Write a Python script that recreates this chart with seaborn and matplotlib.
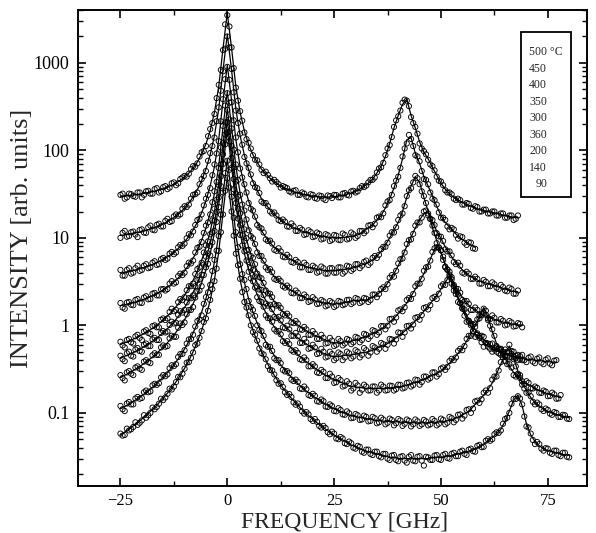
import matplotlib
matplotlib.use("Agg")
import matplotlib.pyplot as plt
import seaborn as sns
from matplotlib.patches import Rectangle
from matplotlib.ticker import FixedLocator, FixedFormatter, LogLocator, NullFormatter

# frequency channels [GHz]: whole numbers, and the channels half way between them
freq = [-25, -24, -23, -22, -21, -20, -19, -18, -17, -16, -15, -14, -13, -12, -11,
        -10, -9, -8, -7, -6, -5, -4, -3, -2, -1, 0, 1, 2, 3, 4, 5, 6, 7, 8, 9, 10,
        11, 12, 13, 14, 15, 16, 17, 18, 19, 20, 21, 22, 23, 24, 25, 26, 27, 28, 29,
        30, 31, 32, 33, 34, 35, 36, 37, 38, 39, 40, 41, 42, 43, 44, 45, 46, 47, 48,
        49, 50, 51, 52, 53, 54, 55, 56, 57, 58, 59, 60, 61, 62, 63, 64, 65, 66, 67,
        68, 69, 70, 71, 72, 73, 74, 75, 76, 77, 78, 79, 80]
freq_mid = [-24.5, -23.5, -22.5, -21.5, -20.5, -19.5, -18.5, -17.5, -16.5, -15.5, -14.5,
            -13.5, -12.5, -11.5, -10.5, -9.5, -8.5, -7.5, -6.5, -5.5, -4.5, -3.5, -2.5,
            -1.5, -0.5, 0.5, 1.5, 2.5, 3.5, 4.5, 5.5, 6.5, 7.5, 8.5, 9.5, 10.5, 11.5, 12.5,
            13.5, 14.5, 15.5, 16.5, 17.5, 18.5, 19.5, 20.5, 21.5, 22.5, 23.5, 24.5, 25.5,
            26.5, 27.5, 28.5, 29.5, 30.5, 31.5, 32.5, 33.5, 34.5, 35.5, 36.5, 37.5, 38.5,
            39.5, 40.5, 41.5, 42.5, 43.5, 44.5, 45.5, 46.5, 47.5, 48.5, 49.5, 50.5, 51.5,
            52.5, 53.5, 54.5, 55.5, 56.5, 57.5, 58.5, 59.5, 60.5, 61.5, 62.5, 63.5, 64.5,
            65.5, 66.5, 67.5, 68.5, 69.5, 70.5, 71.5, 72.5, 73.5, 74.5, 75.5, 76.5, 77.5,
            78.5, 79.5]

legend_labels = ["500 °C", "450", "400", "350", "300", "360", "200", "140", "90"]

# fitted curves (solid lines), on the whole-number channels
fit_500 = [29.8, 30.1, 30.5, 30.9, 31.4, 31.9, 32.6, 33.3, 34.2, 35.2, 36.5, 38.1, 39.9, 42.4, 45.5,
           49.5, 55, 62.6, 73.7, 90.6, 118, 168, 272, 536, 1470, 3726,
           1470, 536, 272, 166, 116, 89, 73, 61, 54, 48, 44, 40.5, 38, 36, 34.5, 33, 32, 31.3, 30.6, 30,
           29.6, 29.4, 29.3, 29.3, 29.5, 30, 30.5, 31.5, 32.5, 34, 36, 39, 42, 47, 55, 66, 85, 120, 180, 250,
           335, 385, 250, 180, 125, 95, 80, 64, 52, 42, 36, 32, 29, 27, 25.5, 24, 23, 22, 21, 20.5,
           20, 19.5, 19, 18.5, 18, 17.5, 17.2, 17]
fit_450 = [10.65, 10.8, 11.0, 11.3, 11.5, 11.9, 12.2, 12.6, 13.1, 13.7, 14.5, 15.3, 16.4, 17.8, 19.5,
           21.9, 25, 29.3, 35.6, 45.2, 61, 89, 148, 298, 828, 2108,
           827, 297, 147, 88, 60, 44, 35, 28, 24, 21, 18.5, 16.8, 15.3, 14.3, 13.5, 12.8, 12.2, 11.7, 11.3, 11,
           10.7, 10.5, 10.3, 10.1, 10, 10, 10.1, 10.2, 10.4, 10.7, 11, 12, 13, 14, 16, 18, 22, 28, 37, 52,
           80, 132, 140, 92, 71, 50, 39, 30, 23, 18, 15, 13.3, 11.8, 10.4, 9.6, 8.8, 8.3, 7.8]
fit_400 = [3.96, 4.04, 4.14, 4.24, 4.36, 4.5, 4.67, 4.85, 5.08, 5.35, 5.67, 6.06, 6.55, 7.16, 7.95,
           8.98, 10.4, 12.3, 15.1, 19.4, 26.5, 39.2, 65.4, 133, 370, 943,
           370, 133, 65, 39, 26.3, 19.2, 15, 12.1, 10.2, 8.8, 7.8, 7.1, 6.5, 6, 5.6, 5.3, 5, 4.8, 4.6, 4.5,
           4.4, 4.3, 4.25, 4.2, 4.2, 4.25, 4.3, 4.4, 4.5, 4.6, 4.8, 5.0, 5.2, 5.6, 6.2, 7, 8.3, 10, 12.3, 15,
           20, 29, 39, 50, 43, 29, 20, 15, 12, 9.8, 7.9, 6.6, 5.6, 4.9, 4.3, 3.9, 3.6, 3.4, 3.2, 3.1,
           3.0, 2.9, 2.8, 2.7, 2.6, 2.5, 2.45, 2.4]
fit_350 = [1.68, 1.72, 1.77, 1.82, 1.88, 1.95, 2.03, 2.13, 2.24, 2.37, 2.53, 2.73, 2.97, 3.28, 3.67,
           4.19, 4.89, 5.86, 7.26, 9.4, 12.9, 19.3, 32.4, 66.1, 184.8, 471,
           185, 66, 32.4, 19.3, 12.9, 9.4, 7.2, 5.8, 4.9, 4.2, 3.6, 3.25, 2.95, 2.7, 2.5, 2.35, 2.2, 2.1, 2.0, 1.95,
           1.88, 1.83, 1.8, 1.77, 1.75, 1.77, 1.8, 1.85, 1.9, 1.92, 1.93, 1.94, 1.97, 2.1, 2.25, 2.45, 2.8, 3.3, 3.9, 4.8,
           6.2, 8, 10.2, 13, 16, 19, 20, 13, 9.3, 6.8, 5.0, 3.9, 3.0, 2.45, 2.1, 1.8, 1.6, 1.5, 1.4, 1.3,
           1.25, 1.2, 1.15, 1.1, 1.08, 1.05, 1.03, 1.01, 1.0]
fit_300 = [0.607, 0.633, 0.663, 0.696, 0.735, 0.78, 0.832, 0.892, 0.962, 1.05, 1.15, 1.28, 1.43, 1.63, 1.88,
           2.21, 2.65, 3.27, 4.17, 5.54, 7.79, 11.8, 20.2, 41.7, 117, 300,
           117, 41.7, 20.2, 11.8, 7.8, 5.5, 4.15, 3.25, 2.65, 2.2, 1.88, 1.63, 1.43, 1.28, 1.16, 1.05, 0.97, 0.9, 0.84, 0.79,
           0.75, 0.71, 0.68, 0.65, 0.63, 0.63, 0.64, 0.65, 0.66, 0.68, 0.7, 0.73, 0.76, 0.8, 0.85, 0.9, 0.98, 1.08, 1.2, 1.36,
           1.56, 1.8, 2.15, 2.6, 3.2, 3.9, 5.0, 6.5, 8.2, 6.8, 4.9, 3.6, 2.7, 2.1, 1.65, 1.3, 1.08, 0.9, 0.78, 0.69,
           0.62, 0.57, 0.53, 0.5, 0.48, 0.46, 0.44, 0.43, 0.42]
fit_260 = [0.426, 0.444, 0.466, 0.49, 0.519, 0.552, 0.591, 0.635, 0.687, 0.75, 0.825, 0.917, 1.03, 1.17, 1.36,
           1.6, 1.93, 2.38, 3.04, 4.05, 5.7, 8.67, 14.8, 30.6, 86.2, 220,
           86, 30.6, 14.8, 8.67, 5.7, 4.05, 3.04, 2.38, 1.93, 1.6, 1.36, 1.17, 1.03, 0.92, 0.83, 0.75, 0.69, 0.64, 0.59, 0.55,
           0.52, 0.49, 0.47, 0.45, 0.44, 0.44, 0.45, 0.455, 0.46, 0.47, 0.48, 0.49, 0.5, 0.52, 0.55, 0.57, 0.6, 0.64, 0.69, 0.75,
           0.82, 0.9, 1.0, 1.12, 1.27, 1.45, 1.65, 1.9, 2.2, 2.6, 3.1, 3.7, 2.8, 2.0, 1.5, 1.2, 0.98, 0.8, 0.7, 0.63,
           0.58, 0.54, 0.51, 0.49, 0.47, 0.455, 0.44, 0.43, 0.42, 0.41, 0.405, 0.4, 0.395, 0.39, 0.385, 0.38, 0.38]
fit_200 = [0.254, 0.269, 0.286, 0.305, 0.326, 0.352, 0.382, 0.416, 0.456, 0.505, 0.563, 0.634, 0.722, 0.834, 0.976,
           1.16, 1.42, 1.77, 2.28, 3.05, 4.33, 6.63, 11.4, 23.6, 66.6, 170,
           66.6, 23.6, 11.4, 6.6, 4.3, 3.0, 2.25, 1.75, 1.4, 1.14, 0.96, 0.82, 0.7, 0.62, 0.55, 0.49, 0.44, 0.4, 0.37, 0.34,
           0.31, 0.29, 0.27, 0.255, 0.24, 0.23, 0.22, 0.21, 0.2, 0.198, 0.195, 0.192, 0.19, 0.19, 0.19, 0.19, 0.19, 0.192, 0.195, 0.198,
           0.2, 0.207, 0.215, 0.222, 0.23, 0.24, 0.255, 0.27, 0.28, 0.3, 0.33, 0.37, 0.42, 0.48, 0.55, 0.66, 0.8, 1.0, 1.25, 1.6,
           1.25, 0.85, 0.62, 0.5, 0.42, 0.34, 0.29, 0.25, 0.23, 0.215, 0.205, 0.19, 0.18, 0.172, 0.165, 0.16, 0.155, 0.15]
fit_140 = [0.112, 0.118, 0.126, 0.135, 0.145, 0.157, 0.171, 0.187, 0.206, 0.229, 0.256, 0.289, 0.33, 0.382, 0.449,
           0.537, 0.655, 0.819, 1.06, 1.42, 2.02, 3.09, 5.32, 11, 31.1, 80,
           31, 11, 5.3, 3.1, 2.0, 1.42, 1.06, 0.82, 0.65, 0.54, 0.45, 0.38, 0.33, 0.29, 0.255, 0.228, 0.205, 0.186, 0.17, 0.156,
           0.145, 0.135, 0.126, 0.118, 0.112, 0.106, 0.101, 0.097, 0.093, 0.091, 0.089, 0.087, 0.085, 0.084, 0.082, 0.081, 0.08, 0.08, 0.079, 0.079,
           0.078, 0.078, 0.077, 0.077, 0.077, 0.077, 0.077, 0.078, 0.078, 0.079, 0.08, 0.082, 0.085, 0.089, 0.095, 0.1, 0.11, 0.125, 0.14, 0.16,
           0.185, 0.22, 0.28, 0.36, 0.47, 0.58, 0.42, 0.3, 0.22, 0.18, 0.15, 0.13, 0.12, 0.11, 0.104, 0.1, 0.096, 0.093, 0.09, 0.088]
fit_90 = [0.056, 0.0605, 0.0655, 0.071, 0.0774, 0.085, 0.0935, 0.104, 0.115, 0.13, 0.147, 0.168, 0.193, 0.226, 0.268,
          0.323, 0.397, 0.5, 0.65, 0.878, 1.255, 1.93, 3.33, 6.9, 19.5, 50,
          19.5, 6.9, 3.33, 1.93, 1.25, 0.88, 0.65, 0.5, 0.4, 0.323, 0.268, 0.226, 0.193, 0.168, 0.147, 0.13, 0.115, 0.103, 0.093, 0.085,
          0.077, 0.071, 0.065, 0.06, 0.056, 0.052, 0.049, 0.046, 0.043, 0.041, 0.039, 0.037, 0.036, 0.035, 0.034, 0.033, 0.032, 0.031, 0.031, 0.03,
          0.03, 0.03, 0.03, 0.03, 0.03, 0.03, 0.03, 0.031, 0.031, 0.031, 0.032, 0.032, 0.033, 0.034, 0.035, 0.036, 0.037, 0.039, 0.041, 0.044,
          0.048, 0.052, 0.058, 0.065, 0.08, 0.105, 0.14, 0.16, 0.12, 0.075, 0.056, 0.047, 0.042, 0.039, 0.037, 0.036, 0.035, 0.034, 0.033, 0.033]

# measured points (open circles) on the whole-number channels
pts_500 = [31, 28, 32, 30, 33, 29, 34, 32, 36, 33, 38, 36, 42, 40, 47, 51, 54, 66, 71, 95, 112, 175, 260, 560, 1400, 3500,
           1500, 520, 280, 160, 122, 88, 77, 60, 57, 48, 46, 41, 39, 37, 33, 35, 31, 32, 29, 31, 28, 30, 27, 30,
           31, 29, 32, 31, 34, 33, 37, 38, 43, 46, 56, 64, 88, 115, 185, 245, 350, 370, 240, 185, 120, 98, 78, 66,
           50, 44, 35, 33, 28, 28, 24, 25, 22, 23, 20, 21, 19, 20, 18, 19, 17, 18, 16, 18]
pts_450 = [10, 12, 10.5, 11.8, 10.2, 12.5, 11.4, 13.8, 12.2, 14.5, 13.5, 16.5, 15.5, 18.5, 18.6, 23, 24, 31, 33, 47,
           58, 93, 140, 310, 800, 2000,
           850, 285, 155, 84, 63, 42, 37, 26, 25, 20, 19.5, 16, 16.2, 13.5, 14.6, 12, 13, 10.8, 12.2, 10.2, 11.5, 9.6,
           11, 9.2, 10.8, 9.5, 11.2, 9.6, 11.5, 10, 12, 11.3, 13.8, 13.2, 17, 17.2, 23.5, 27, 39, 50, 85, 120, 135, 88,
           75, 47, 41, 28, 24, 17, 16, 12.5, 12.5, 9.8, 10.2, 8.3, 8.8, 7.5]
pts_400 = [4.3, 3.7, 4.5, 4.0, 4.8, 4.3, 5.0, 4.6, 5.4, 5.0, 5.9, 5.8, 6.9, 6.8, 8.3, 8.6, 11, 11.8, 16, 18.5,
           28, 37, 69, 127, 385, 900,
           355, 140, 62, 41, 25, 20.5, 14, 12.8, 9.6, 9.3, 7.3, 7.6, 6.1, 6.4, 5.3, 5.6, 4.6, 5.2, 4.3, 4.8, 4.0, 4.7,
           3.9, 4.5, 4.0, 4.6, 3.9, 4.8, 4.2, 5.0, 4.5, 5.3, 4.9, 5.9, 5.9, 7.4, 7.9, 10.6, 11.5, 16, 19, 30, 37, 51,
           41, 30, 19, 16, 11.3, 10.3, 7.4, 7.0, 5.3, 5.2, 4.0, 4.1, 3.4, 3.6, 3.0, 3.3, 2.8, 3.1, 2.7, 2.9, 2.5, 2.7,
           2.3, 2.5]
pts_350 = [1.8, 1.55, 1.85, 1.7, 2.0, 1.8, 2.15, 2.0, 2.35, 2.2, 2.6, 2.6, 3.2, 3.1, 3.9, 4.0, 5.2, 5.5, 7.7, 9.0,
           13.8, 18.5, 34, 63, 190, 450,
           178, 69, 31, 20.5, 12.2, 9.9, 6.8, 6.2, 4.6, 4.4, 3.4, 3.4, 2.8, 2.85, 2.35, 2.5, 2.05, 2.25, 1.85, 2.1,
           1.75, 1.95, 1.65, 1.9, 1.62, 1.9, 1.7, 1.95, 1.75, 2.05, 1.8, 2.05, 1.85, 2.25, 2.1, 2.6, 2.6, 3.5, 3.6, 5.1,
           5.8, 8.5, 9.6, 13.8, 15, 20, 18, 13.8, 8.7, 7.2, 4.7, 4.1, 2.8, 2.6, 1.95, 1.9, 1.5, 1.6, 1.3, 1.38, 1.15,
           1.3, 1.08, 1.18, 1.0, 1.12, 0.97, 1.06, 0.95]
pts_300 = [0.65, 0.56, 0.7, 0.62, 0.78, 0.68, 0.88, 0.8, 1.0, 0.95, 1.2, 1.2, 1.55, 1.5, 2.0, 2.1, 2.8, 3.0, 4.4, 5.2,
           8.2, 11, 21.5, 40, 122, 290,
           112, 44, 19, 12.5, 7.3, 5.9, 3.9, 3.45, 2.5, 2.3, 1.75, 1.7, 1.35, 1.36, 1.08, 1.12, 0.9, 0.96, 0.78, 0.86,
           0.7, 0.78, 0.62, 0.72, 0.58, 0.7, 0.59, 0.7, 0.61, 0.74, 0.64, 0.8, 0.7, 0.88, 0.78, 0.98, 0.9, 1.18, 1.1,
           1.48, 1.45, 1.95, 2.0, 2.8, 3.0, 4.2, 4.7, 6.9, 7.8, 7.2, 4.6, 3.8, 2.5, 2.25, 1.55, 1.4, 1.0, 0.96, 0.72,
           0.74, 0.57, 0.62, 0.5, 0.54, 0.45, 0.5, 0.41, 0.46, 0.4]
pts_260 = [0.45, 0.39, 0.5, 0.44, 0.55, 0.5, 0.62, 0.58, 0.72, 0.68, 0.86, 0.85, 1.1, 1.07, 1.45, 1.5, 2.05, 2.2,
           3.3, 3.8, 6.1, 8.1, 15.8, 29, 90, 210,
           82, 32, 14, 9.2, 5.3, 4.3, 2.8, 2.55, 1.78, 1.72, 1.25, 1.25, 0.95, 0.99, 0.76, 0.82, 0.63, 0.7, 0.54, 0.6,
           0.47, 0.54, 0.43, 0.5, 0.4, 0.49, 0.4, 0.5, 0.42, 0.52, 0.43, 0.55, 0.45, 0.58, 0.5, 0.63, 0.54, 0.7, 0.62,
           0.83, 0.74, 0.98, 0.92, 1.22, 1.16, 1.58, 1.52, 2.05, 2.0, 2.8, 2.9, 3.6, 2.9, 1.85, 1.6, 1.1, 1.05, 0.74,
           0.75, 0.57, 0.62, 0.5, 0.56, 0.46, 0.53, 0.43, 0.5, 0.4, 0.46, 0.38, 0.44, 0.37, 0.43, 0.36, 0.42, 0.35, 0.4]
pts_200 = [0.27, 0.235, 0.3, 0.27, 0.34, 0.31, 0.4, 0.37, 0.48, 0.46, 0.59, 0.58, 0.76, 0.74, 1.05, 1.08, 1.5, 1.62,
           2.45, 2.8, 4.6, 6.3, 12, 22.5, 70, 160,
           63, 25, 10.8, 7.0, 4.1, 3.2, 2.1, 1.85, 1.3, 1.2, 0.9, 0.86, 0.66, 0.66, 0.52, 0.52, 0.41, 0.43, 0.34, 0.36,
           0.29, 0.31, 0.25, 0.28, 0.22, 0.25, 0.2, 0.23, 0.18, 0.22, 0.17, 0.21, 0.18, 0.2, 0.17, 0.21, 0.18, 0.205,
           0.18, 0.21, 0.19, 0.22, 0.2, 0.24, 0.21, 0.26, 0.24, 0.29, 0.26, 0.32, 0.31, 0.39, 0.4, 0.51, 0.52, 0.7,
           0.76, 1.05, 1.2, 1.55, 1.2, 0.9, 0.58, 0.53, 0.39, 0.36, 0.27, 0.27, 0.21, 0.23, 0.19, 0.2, 0.17, 0.18,
           0.155, 0.17, 0.145, 0.16]
pts_140 = [0.12, 0.105, 0.133, 0.125, 0.152, 0.148, 0.18, 0.176, 0.215, 0.218, 0.27, 0.275, 0.35, 0.36, 0.47, 0.52,
           0.69, 0.78, 1.12, 1.3, 2.1, 2.9, 5.6, 10.5, 33, 76,
           29.5, 11.6, 5.0, 3.3, 1.9, 1.5, 1.0, 0.86, 0.6, 0.57, 0.42, 0.4, 0.31, 0.3, 0.24, 0.24, 0.19, 0.2, 0.16,
           0.165, 0.136, 0.142, 0.118, 0.125, 0.105, 0.113, 0.096, 0.104, 0.087, 0.097, 0.083, 0.093, 0.08, 0.09,
           0.076, 0.088, 0.074, 0.086, 0.072, 0.085, 0.071, 0.084, 0.07, 0.084, 0.071, 0.083, 0.072, 0.085, 0.072,
           0.086, 0.074, 0.09, 0.078, 0.095, 0.086, 0.108, 0.1, 0.135, 0.13, 0.17, 0.17, 0.24, 0.26, 0.38, 0.44, 0.6,
           0.44, 0.28, 0.23, 0.17, 0.155, 0.125, 0.125, 0.105, 0.108, 0.095, 0.1, 0.09, 0.094, 0.085]
pts_90 = [0.058, 0.056, 0.063, 0.069, 0.073, 0.082, 0.088, 0.1, 0.11, 0.127, 0.14, 0.165, 0.185, 0.225, 0.255, 0.32,
          0.38, 0.49, 0.62, 0.86, 1.2, 1.95, 3.2, 7.1, 18.5, 48,
          20, 6.6, 3.4, 1.85, 1.3, 0.84, 0.67, 0.48, 0.41, 0.31, 0.275, 0.215, 0.198, 0.16, 0.152, 0.124, 0.118,
          0.098, 0.096, 0.081, 0.079, 0.068, 0.067, 0.057, 0.058, 0.05, 0.051, 0.044, 0.045, 0.039, 0.041, 0.035,
          0.038, 0.033, 0.036, 0.031, 0.034, 0.029, 0.033, 0.028, 0.032, 0.027, 0.033, 0.028, 0.032, 0.025, 0.031,
          0.029, 0.033, 0.029, 0.034, 0.03, 0.035, 0.032, 0.037, 0.033, 0.039, 0.036, 0.043, 0.041, 0.05, 0.05,
          0.06, 0.063, 0.085, 0.1, 0.145, 0.155, 0.125, 0.07, 0.058, 0.044, 0.044, 0.037, 0.039, 0.034, 0.037,
          0.032, 0.035, 0.031]

# measured points on the half-way channels
mid_500 = [32, 29, 31.5, 29.5, 33, 31, 34.5, 32, 37, 34, 39, 37.5, 43, 42, 49, 50, 61, 65, 85, 98, 145, 205, 395, 830, 2750,
           2600, 870, 370, 218, 134, 105, 78, 69, 55, 52.5, 44, 43.5, 37.5, 38, 34, 34.5, 31, 33, 29.5, 31.5,
           28.5, 30.5, 28, 30.5, 28.5, 30.8, 29, 32.5, 30.5, 34.5, 34, 39, 39.5, 46, 49, 62, 72, 105, 142, 220,
           285, 380, 320, 205, 155, 105, 90, 69, 59, 45, 40, 33, 31.5, 27, 27, 24, 24.5, 21.5, 22.5, 20,
           21, 19, 20, 18, 19, 17, 18, 16.5]
mid_450 = [11.4, 10.3, 11.6, 10.9, 12.3, 11.5, 13.2, 12.4, 14.1, 13.5, 15.6, 15.2, 17.6, 17.9, 21.5, 22.5, 28, 31.5,
           41, 51, 76, 112, 215, 480, 1450,
           1500, 460, 205, 116, 71, 53, 38, 32.5, 25, 23, 19, 18, 15.5, 15.3, 13.4, 13.6, 12, 12.4, 11, 11.7,
           10.4, 11.1, 9.8, 10.7, 9.5, 10.6, 9.4, 10.8, 9.8, 11, 10.5, 12, 12, 14, 14.5, 17.5, 19, 26, 31, 45,
           63, 105, 150, 112, 85, 58, 46, 33, 27, 19.5, 17, 13.5, 13, 10.8, 10.4, 8.8, 8.9, 7.6]
mid_400 = [3.7, 4.3, 3.9, 4.5, 4.2, 4.8, 4.5, 5.2, 4.9, 5.7, 5.6, 6.6, 6.5, 7.8, 8.1, 9.9, 10.7, 14, 16.5, 23.5,
           31, 52, 92, 215, 650,
           640, 220, 95, 49, 33, 21.5, 17.5, 13.2, 11.5, 9.2, 8.6, 7.1, 7.0, 6.0, 6.0, 5.2, 5.3, 4.6, 4.9, 4.3,
           4.6, 4.1, 4.5, 3.9, 4.5, 4.0, 4.6, 4.1, 4.7, 4.4, 5.0, 4.8, 5.5, 5.2, 6.2, 6.4, 7.9, 8.8, 11.6, 13.2,
           18, 23, 35, 43, 48, 34, 25, 16.5, 14, 10.4, 9.2, 7.0, 6.3, 5.0, 4.8, 3.9, 3.9, 3.4, 3.4, 3.0,
           3.15, 2.8, 2.95, 2.6, 2.75, 2.45, 2.6, 2.3]
mid_350 = [1.6, 1.82, 1.72, 1.95, 1.82, 2.08, 1.98, 2.3, 2.2, 2.58, 2.5, 3.0, 3.0, 3.65, 3.75, 4.75, 5.1, 6.8,
           7.9, 11.4, 15, 25.5, 43.5, 108, 325,
           350, 102, 46, 24, 16.2, 10.5, 8.5, 6.2, 5.5, 4.3, 4.05, 3.3, 3.2, 2.7, 2.7, 2.32, 2.36, 2.05, 2.12, 1.9,
           1.98, 1.78, 1.88, 1.7, 1.83, 1.68, 1.86, 1.74, 1.96, 1.82, 2.0, 1.86, 2.02, 1.95, 2.25, 2.28, 2.72, 2.95,
           3.75, 4.2, 5.7, 6.8, 9.4, 11.1, 15, 17, 20.5, 16.5, 11.4, 7.7, 6.1, 4.3, 3.55, 2.62, 2.36, 1.88,
           1.76, 1.5, 1.5, 1.3, 1.32, 1.18, 1.22, 1.08, 1.13, 1.02, 1.08, 0.98, 1.04]
mid_300 = [0.59, 0.68, 0.64, 0.75, 0.72, 0.85, 0.82, 0.98, 0.95, 1.16, 1.15, 1.42, 1.45, 1.84, 1.94, 2.52, 2.8,
           3.85, 4.6, 6.8, 9.1, 15.8, 27.3, 69, 208,
           225, 64, 29.5, 14.6, 9.9, 6.2, 5.0, 3.55, 3.05, 2.32, 2.1, 1.68, 1.58, 1.3, 1.27, 1.06, 1.05, 0.89, 0.9,
           0.78, 0.8, 0.7, 0.72, 0.63, 0.67, 0.6, 0.66, 0.62, 0.68, 0.64, 0.72, 0.68, 0.78, 0.75, 0.86, 0.83, 0.98,
           0.99, 1.19, 1.23, 1.52, 1.61, 2.05, 2.28, 3.0, 3.4, 4.6, 5.5, 7.6, 7.8, 5.6, 4.35, 3.0, 2.47, 1.79,
           1.52, 1.13, 1.02, 0.81, 0.76, 0.63, 0.61, 0.53, 0.535, 0.47, 0.49, 0.43, 0.45, 0.41]
mid_260 = [0.41, 0.48, 0.45, 0.53, 0.51, 0.6, 0.58, 0.69, 0.68, 0.82, 0.83, 1.01, 1.05, 1.32, 1.4, 1.83, 2.04,
           2.8, 3.34, 4.95, 6.65, 11.5, 19.8, 50.5, 152,
           165, 47, 21.5, 10.7, 7.2, 4.55, 3.62, 2.57, 2.22, 1.68, 1.53, 1.21, 1.14, 0.93, 0.9, 0.76, 0.75, 0.63,
           0.64, 0.55, 0.56, 0.48, 0.5, 0.44, 0.47, 0.42, 0.47, 0.43, 0.48, 0.44, 0.5, 0.46, 0.52, 0.49, 0.56,
           0.54, 0.61, 0.6, 0.69, 0.69, 0.82, 0.83, 0.99, 1.02, 1.24, 1.31, 1.61, 1.7, 2.12, 2.3, 2.95, 3.3,
           3.35, 2.28, 1.8, 1.29, 1.12, 0.86, 0.78, 0.64, 0.63, 0.54, 0.55, 0.48, 0.5, 0.44, 0.47, 0.42, 0.445,
           0.4, 0.425, 0.385, 0.415, 0.375, 0.405, 0.365, 0.395]
mid_200 = [0.25, 0.29, 0.28, 0.33, 0.32, 0.385, 0.38, 0.455, 0.46, 0.56, 0.57, 0.71, 0.74, 0.94, 1.01, 1.34, 1.5,
           2.08, 2.5, 3.76, 5.05, 8.9, 15.2, 39, 117,
           127, 36, 16.6, 8.2, 5.5, 3.45, 2.7, 1.9, 1.63, 1.21, 1.1, 0.85, 0.79, 0.63, 0.61, 0.5, 0.485, 0.4, 0.4,
           0.34, 0.34, 0.285, 0.295, 0.25, 0.26, 0.224, 0.237, 0.205, 0.216, 0.19, 0.206, 0.184, 0.2, 0.181, 0.2,
           0.18, 0.2, 0.182, 0.203, 0.187, 0.209, 0.194, 0.222, 0.208, 0.237, 0.225, 0.26, 0.25, 0.29, 0.277,
           0.33, 0.335, 0.415, 0.43, 0.54, 0.58, 0.76, 0.86, 1.17, 1.36, 1.47, 0.99, 0.76, 0.54, 0.48, 0.36,
           0.33, 0.26, 0.25, 0.213, 0.22, 0.19, 0.193, 0.169, 0.175, 0.156, 0.163, 0.146]
mid_140 = [0.11, 0.128, 0.125, 0.146, 0.145, 0.172, 0.172, 0.206, 0.209, 0.254, 0.262, 0.323, 0.342, 0.435,
           0.472, 0.62, 0.7, 0.97, 1.17, 1.76, 2.38, 4.18, 7.15, 18.4, 55,
           60, 17, 7.8, 3.85, 2.6, 1.62, 1.28, 0.89, 0.76, 0.57, 0.51, 0.4, 0.37, 0.297, 0.284, 0.231, 0.226,
           0.187, 0.186, 0.156, 0.157, 0.134, 0.136, 0.117, 0.12, 0.104, 0.108, 0.095, 0.099, 0.088, 0.094,
           0.084, 0.09, 0.081, 0.087, 0.078, 0.084, 0.077, 0.083, 0.076, 0.082, 0.075, 0.081, 0.074, 0.08,
           0.074, 0.08, 0.074, 0.081, 0.075, 0.083, 0.077, 0.087, 0.083, 0.096, 0.093, 0.11, 0.112, 0.138,
           0.143, 0.18, 0.192, 0.26, 0.305, 0.43, 0.5, 0.51, 0.34, 0.27, 0.19, 0.172, 0.134, 0.131, 0.11,
           0.112, 0.098, 0.102, 0.09, 0.095, 0.086]
mid_90 = [0.055, 0.066, 0.065, 0.078, 0.077, 0.094, 0.094, 0.115, 0.117, 0.145, 0.15, 0.189, 0.2, 0.258, 0.28,
          0.375, 0.425, 0.595, 0.72, 1.09, 1.47, 2.6, 4.45, 11.6, 34.5,
          37.5, 10.6, 4.85, 2.4, 1.6, 1.0, 0.78, 0.545, 0.465, 0.342, 0.305, 0.236, 0.218, 0.172, 0.164, 0.132,
          0.128, 0.104, 0.102, 0.085, 0.085, 0.071, 0.071, 0.06, 0.061, 0.051, 0.053, 0.045, 0.047, 0.04,
          0.042, 0.036, 0.038, 0.034, 0.036, 0.032, 0.034, 0.03, 0.0325, 0.029, 0.0315, 0.0285, 0.0315, 0.0285,
          0.0315, 0.0285, 0.0315, 0.029, 0.0325, 0.0295, 0.033, 0.0305, 0.034, 0.032, 0.036, 0.034, 0.038,
          0.0365, 0.042, 0.0405, 0.048, 0.048, 0.057, 0.059, 0.075, 0.088, 0.127, 0.144, 0.146, 0.091, 0.068,
          0.049, 0.0465, 0.039, 0.0395, 0.035, 0.037, 0.033, 0.035, 0.0315]

fits = [fit_500, fit_450, fit_400, fit_350, fit_300, fit_260, fit_200, fit_140, fit_90]
points = [pts_500, pts_450, pts_400, pts_350, pts_300, pts_260, pts_200, pts_140, pts_90]
points_mid = [mid_500, mid_450, mid_400, mid_350, mid_300, mid_260, mid_200, mid_140, mid_90]

sns.set_style("ticks")
plt.rcParams["font.family"] = ["Liberation Serif", "DejaVu Serif"]
plt.rcParams["axes.linewidth"] = 1.4

fig = plt.figure(figsize=(5.96, 5.33), dpi=100)
ax = fig.add_axes([0.1304, 0.0882, 0.854, 0.8933])

for fit, pts, mid in zip(fits, points, points_mid):
    sns.scatterplot(x=freq[:len(pts)], y=pts, ax=ax, marker="o", s=14, facecolor="none",
                    edgecolor="black", linewidth=0.65, legend=False, zorder=2)
    sns.scatterplot(x=freq_mid[:len(mid)], y=mid, ax=ax, marker="o", s=14, facecolor="none",
                    edgecolor="black", linewidth=0.65, legend=False, zorder=2)
    sns.lineplot(x=freq[:len(fit)], y=fit, ax=ax, color="black", linewidth=0.9,
                 legend=False, zorder=3)

ax.set_yscale("log")
ax.set_xlim(-35, 84.1)
ax.set_ylim(0.0146, 4030)

ax.xaxis.set_major_locator(FixedLocator([-25, 0, 25, 50, 75]))
ax.xaxis.set_minor_locator(FixedLocator([-12.5, 12.5, 37.5, 62.5]))
ax.yaxis.set_major_locator(FixedLocator([0.1, 1, 10, 100, 1000]))
ax.yaxis.set_major_formatter(FixedFormatter(["0.1", "1", "10", "100", "1000"]))
ax.yaxis.set_minor_locator(LogLocator(base=10, subs=[2, 3, 4, 5, 6, 7, 8, 9], numticks=20))
ax.yaxis.set_minor_formatter(NullFormatter())

ax.tick_params(which="both", direction="in", top=True, right=True, colors="black")
ax.tick_params(which="major", length=6, width=1.2)
ax.tick_params(which="minor", length=3.5, width=1.0)
ax.tick_params(axis="x", labelsize=12, pad=5)
ax.tick_params(axis="y", labelsize=13, pad=6)

ax.set_xlabel("FREQUENCY [GHz]", fontsize=17)
ax.set_ylabel("INTENSITY [arb. units]", fontsize=19)
ax.xaxis.set_label_coords(0.525, -0.0535)
ax.yaxis.set_label_coords(-0.088, 0.52)

# temperature key
ax.add_patch(Rectangle((0.870, 0.608), 0.100, 0.345, transform=ax.transAxes,
                       facecolor="white", edgecolor="black", linewidth=1.3, zorder=5))
for i, lab in enumerate(legend_labels):
    xpos = 0.900 if lab == "90" else 0.887
    ax.text(xpos, 0.911 - 0.0346 * i, lab, transform=ax.transAxes, fontsize=8.5,
            va="center", ha="left", zorder=6)

for sp in ax.spines.values():
    sp.set_visible(True)
    sp.set_color("black")

fig.savefig("out.png", dpi=100)
